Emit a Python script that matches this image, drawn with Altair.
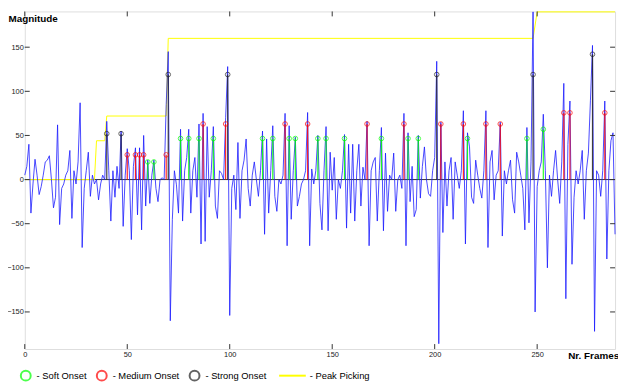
import altair as alt
import pandas as pd

# ---- data ----
magnitude = [
    5, 15, 40, -38, -5, 23, 5, -17, -8, 5,
    20, 22, 27, 0, -32, -20, 62, -51, -10, -5,
    5, 10, 33, -44, 10, -5, 20, 87, -77, -10,
    10, 31, -19, 5, -5, 0, -23, -5, 5, 0,
    66, 10, -47, 10, -20, 15, -10, 55, -53, 5,
    35, 10, -68, 15, 36, -40, 36, -57, 50, -30,
    22, -27, 5, 22, -10, -25, 0, 2, 0, 85,
    145, -160, -45, 10, -6, -38, 57, -47, 10, 25,
    57, -38, 10, 25, -20, 63, -73, 75, -70, 60,
    -20, 10, 60, -30, -44, 10, 7, 0, 70, 128,
    -154, -10, 5, -34, 42, -44, 10, 22, 46, -10,
    -30, 5, 20, 0, -19, 10, 55, -62, 46, -38,
    10, 61, -19, -36, 0, -5, 5, 75, -75, 61,
    -45, 10, 48, -30, -19, -5, 0, 10, 76, -75,
    12, -5, 10, 50, -27, -57, 10, 60, -58, 31,
    -12, 25, -45, 0, -10, 10, 51, -55, 40, -38,
    40, -47, 10, 40, -30, 14, 0, 66, -75, 10,
    20, 25, -47, 10, 59, -58, 30, -36, 5, 0,
    30, -36, 0, 5, -10, 75, -75, 53, -25, 15,
    -42, -34, 50, -21, 15, 37, 0, -16, -19, 10,
    25, 134, -186, 65, -60, 20, -30, 10, 25, -45,
    20, 5, -10, 10, 78, -73, 53, 37, -20, -27,
    22, 5, -10, -21, 10, 78, -77, 20, 33, -23,
    5, 10, 65, -64, 10, -5, 10, 22, -23, -38,
    31, 20, 5, -10, -57, 59, -49, 20, 190, -150,
    -8, 10, 20, 74, 10, -100, 5, -19, 10, 33,
    0, -27, 20, 109, -135, 40, 89, -96, -20, 10,
    -5, 10, 33, -45, 10, 30, 90, 152, -172, 10,
    5, -19, 10, 89, -90, 10, 44, 53, -62,
]
frames = list(range(len(magnitude)))

soft_onsets = [60, 63, 76, 80, 85, 92, 116, 121, 129, 132, 143, 147, 156, 174, 187, 192, 216, 245, 253]
soft_levels = [20, 20, 46.5, 46.5, 46.5, 46.5, 46.5, 46.5, 46.5, 46.5, 46.5, 46.5, 46.5, 46.5, 46.5, 46.5, 46.5, 46.5, 57]
medium_onsets = [50, 54, 56, 58, 69, 87, 98, 127, 138, 167, 185, 203, 214, 225, 232, 263, 266, 283]
medium_levels = [28, 28, 28, 28, 28, 63, 63, 63, 63, 63, 63, 63, 63, 63, 63, 75.6, 75.6, 75.6]
strong_onsets = [40, 47, 70, 99, 201, 248, 277]
strong_levels = [52, 52, 119, 119, 119, 119, 142]

peak_frames = [0, 34, 35, 39, 40, 69, 70, 248, 250, 288]
peak_levels = [0, 0, 44, 44, 72, 72, 160, 160, 190, 190]

legend_labels = ["- Soft Onset", "- Medium Onset", "- Strong Onset"]
legend_colors = ["#00ff00", "#ff0000", "#222222"]
peak_label = "- Peak Picking"

x_ticks = [0, 50, 100, 150, 200, 250]
y_ticks = [-150, -100, -50, 0, 50, 100, 150]

# ---- layout ----
W, H = 598, 342
FONT = "Liberation Sans"
xs = alt.Scale(domain=[0, 288], nice=False, zero=False)
ys = alt.Scale(domain=[-192, 190.5], nice=False, zero=False)

x_axis = alt.Axis(values=x_ticks, ticks=False, tickSize=0, domain=False, grid=False,
                  labelFontSize=7.5, labelPadding=2, labelFlush=False, labelColor="#222",
                  title="Nr. Frames", titleX=550, titleY=10, titleAlign="left",
                  titleBaseline="alphabetic", titleFontSize=10, titleFontWeight="bold",
                  titleColor="black")
y_axis = alt.Axis(values=y_ticks, ticks=False, tickSize=0, domain=False, grid=False,
                  labelFontSize=7.5, labelPadding=1.5, labelFlush=False, labelColor="#222",
                  title="Magnitude", titleAngle=0, titleX=-17, titleY=10, titleAlign="left",
                  titleBaseline="alphabetic", titleFontSize=10, titleFontWeight="bold",
                  titleColor="black")


def X(f="frame"):
    return alt.X(f"{f}:Q", scale=xs, axis=x_axis)


def Y(f="value"):
    return alt.Y(f"{f}:Q", scale=ys, axis=y_axis)


sig_df = pd.DataFrame({"frame": frames, "value": magnitude})
peak_df = pd.DataFrame({"frame": peak_frames, "value": peak_levels, "name": [peak_label] * len(peak_frames)})

onset_rows = []
for lab, fr, lv in zip(legend_labels, [soft_onsets, medium_onsets, strong_onsets],
                       [soft_levels, medium_levels, strong_levels]):
    for f, v in zip(fr, lv):
        onset_rows.append({"frame": f, "value": v, "base": 0, "kind": lab})
onset_df = pd.DataFrame(onset_rows)

zero = alt.Chart(pd.DataFrame({"value": [0]})).mark_rule(color="#333", strokeWidth=1).encode(y=Y())

peak = alt.Chart(peak_df).mark_line(strokeWidth=1).encode(
    x=X(), y=Y(),
    stroke=alt.Stroke("name:N", scale=alt.Scale(domain=[peak_label], range=["#ffff00"]),
                      legend=alt.Legend(orient="none", legendX=256.7, legendY=354.5, title=None,
                                        symbolType="stroke", symbolSize=729, symbolStrokeWidth=2,
                                        labelOffset=3, labelFontSize=9.5, labelFont=FONT,
                                        labelColor="black")),
)

signal = alt.Chart(sig_df).mark_line(color="#1a1aff", strokeWidth=1, opacity=0.8).encode(x=X(), y=Y())

stems = []
for lab, col in zip(legend_labels, legend_colors):
    stems.append(
        alt.Chart(onset_df[onset_df["kind"] == lab]).mark_rule(color=col, strokeWidth=1.2, opacity=0.85).encode(
            x=X(), y=Y("base"), y2=alt.Y2("value:Q"))
    )

circles = alt.Chart(onset_df).mark_point(filled=False, size=22, strokeWidth=1).encode(
    x=X(), y=Y(),
    color=alt.Color("kind:N", scale=alt.Scale(domain=legend_labels, range=legend_colors),
                    legend=alt.Legend(orient="none", legendX=-5, legendY=363, title=None,
                                      direction="horizontal", symbolType="circle", symbolSize=100,
                                      symbolStrokeWidth=2, labelOffset=5, columnPadding=6,
                                      labelFontSize=9.5, labelFont=FONT, labelColor="black")),
)

tick_x = pd.DataFrame({"frame": x_ticks})
tick_y = pd.DataFrame({"value": y_ticks})
ticks = [
    alt.Chart(tick_x).mark_rule(color="#333").encode(x=X(), y=alt.value(H), y2=alt.value(H - 5)),
    alt.Chart(tick_x).mark_rule(color="#333").encode(x=X(), y=alt.value(0), y2=alt.value(5)),
    alt.Chart(tick_y).mark_rule(color="#333").encode(y=Y(), x=alt.value(0), x2=alt.value(5)),
    alt.Chart(tick_y).mark_rule(color="#333").encode(y=Y(), x=alt.value(W), x2=alt.value(W - 5)),
]

chart = alt.layer(zero, peak, signal, *stems, circles, *ticks).properties(
    width=W, height=H,
    padding={"left": 17, "top": 1, "right": 3, "bottom": 37},
    autosize=alt.AutoSizeParams(type="none"),
).configure_view(stroke="#333", strokeWidth=1).configure(font=FONT)

chart.save("out.html", embed_options={"renderer": "svg", "actions": False})
